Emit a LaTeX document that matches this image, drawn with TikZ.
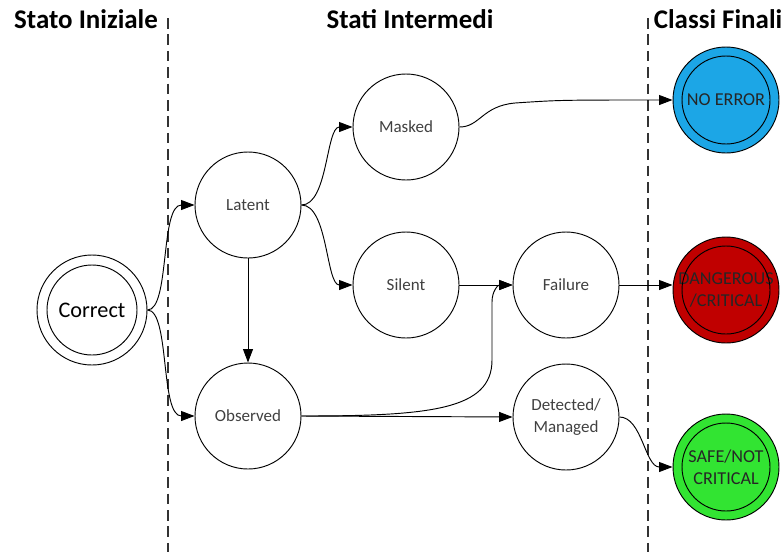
\documentclass[tikz,border=0pt]{standalone}
\usepackage{fontspec}
\setmainfont{Carlito}
\usetikzlibrary{arrows.meta}
\definecolor{nodetext}{RGB}{64,64,64}
\definecolor{noerr}{RGB}{28,166,230}
\definecolor{danger}{RGB}{192,0,0}
\definecolor{safe}{RGB}{50,228,50}
\begin{document}
\begin{tikzpicture}[x=0.03cm,y=-0.03cm,
  state/.style={circle,draw,line width=0.8pt,minimum size=3.18cm,inner sep=0pt,align=center,
    text=nodetext,font=\fontsize{14.5}{19}\selectfont},
  finalcls/.style={circle,draw,line width=0.8pt,minimum size=3.18cm,inner sep=0pt,align=center,
    text=black!85,font=\fontsize{15.5}{18.5}\selectfont},
  initstate/.style={circle,draw,line width=0.8pt,minimum size=3.3cm,inner sep=0pt,
    font=\fontsize{19}{22}\selectfont},
  ring/.style={line width=0.8pt},
  title/.style={anchor=base,font=\bfseries\fontsize{23}{27}\selectfont},
  flow/.style={line width=0.8pt,-{Triangle[length=11.5pt,width=8.5pt]}},
  divider/.style={dash pattern=on 9pt off 5pt,line width=1pt,draw=black!80}
]
\useasboundingbox (0,0) rectangle (783,552);

% column headings
\node[title] (hini) at (86,28) {Stato Iniziale};
\node[title] (hmid) at (410,28) {Stati Intermedi};
\node[title] (hfin) at (718,28) {Classi Finali};

% column dividers
\draw[divider] (168,18) -- (168,552);
\draw[divider] (648,18) -- (648,552);

% initial state
\node[initstate] (cor) at (92,310) {Correct};
\draw[ring] (cor) circle[radius=1.35cm];

% intermediate states
\node[state] (lat)  at (248,205) {Latent};
\node[state] (obs)  at (248,416) {Observed};
\node[state] (mask) at (406,127) {Masked};
\node[state] (sil)  at (406,285) {Silent};
\node[state] (fail) at (566,285) {Failure};
\node[state] (det)  at (566,417) {Detected/\\Managed};

% final classes
\node[finalcls,fill=noerr]  (nerr) at (726,100) {NO ERROR};
\node[finalcls,fill=danger] (dang) at (726,290) {DANGEROUS\\/CRITICAL};
\node[finalcls,fill=safe]   (saf)  at (726,467) {SAFE/NOT\\CRITICAL};
\draw[ring] (nerr) circle[radius=1.32cm];
\draw[ring] (dang) circle[radius=1.32cm];
\draw[ring] (saf)  circle[radius=1.32cm];

% transitions
\draw[flow] (cor.east) .. controls (170,310) and (160,205) .. (lat.west);
\draw[flow] (cor.east) .. controls (170,310) and (160,416) .. (obs.west);
\draw[flow] (lat.east) .. controls (328,205) and (326,127) .. (mask.west);
\draw[flow] (lat.east) .. controls (328,205) and (326,285) .. (sil.west);
\draw[flow] (lat.south) -- (obs.north);
\draw[flow] (mask.east) .. controls (480,127) and (482,106) .. (515,103)
  .. controls (560,100) .. (nerr.west);
\draw[flow] (sil.east) -- (fail.west);
\draw[flow] (obs.east) .. controls (430,416) and (492,410) .. (492,360) -- (492,302)
  .. controls (492,291) and (498,285) .. (fail.west);
\draw[flow] (obs.east) -- (det.west);
\draw[flow] (fail.east) -- (fail.east -| dang.west);
\draw[flow] (det.east) .. controls (642,417) and (645,467) .. (saf.west);
\end{tikzpicture}
\end{document}
